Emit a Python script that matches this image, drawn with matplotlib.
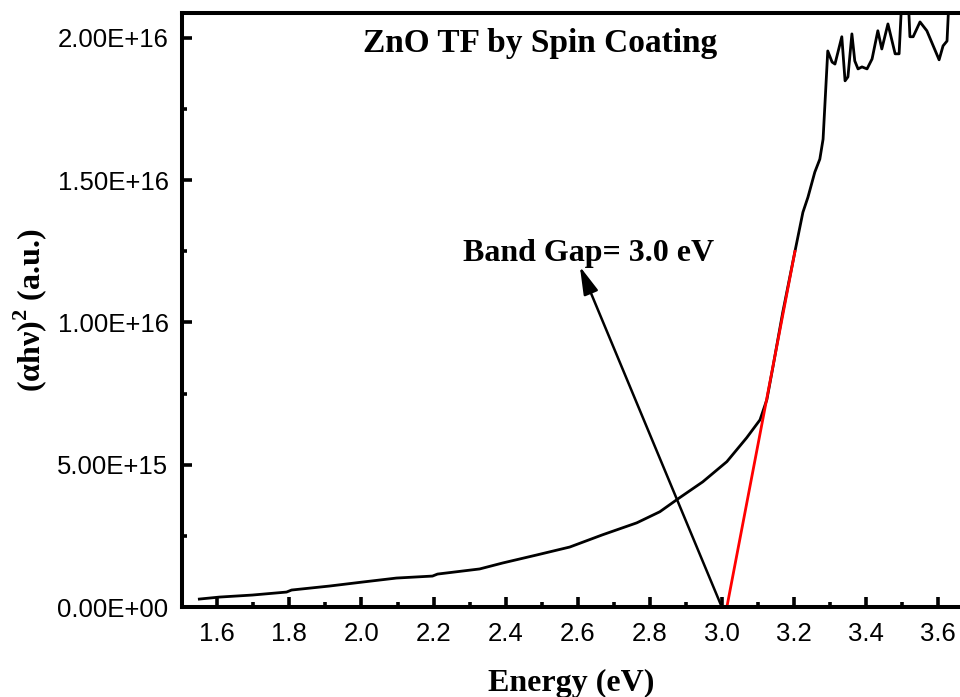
import matplotlib
matplotlib.use("Agg")
import matplotlib.pyplot as plt
from matplotlib.ticker import MultipleLocator, FormatStrFormatter

# Tauc plot data
energy = [1.550, 1.606, 1.697, 1.792, 1.806, 1.911, 2.003, 2.097, 2.197, 2.211,
          2.328, 2.392, 2.486, 2.578, 2.669, 2.764, 2.828, 2.878, 2.947, 3.014,
          3.069, 3.106, 3.125, 3.142, 3.169, 3.203, 3.225, 3.239, 3.258, 3.272,
          3.281, 3.294, 3.306, 3.314, 3.333, 3.342, 3.350, 3.361, 3.369, 3.378,
          3.389, 3.403, 3.417, 3.433, 3.444, 3.461, 3.481, 3.492, 3.500, 3.517,
          3.522, 3.531, 3.550, 3.569, 3.603, 3.614, 3.625, 3.631, 3.650]
ahv2 = [2.82e14, 3.52e14, 4.23e14, 5.28e14, 5.99e14, 7.39e14, 8.80e14, 1.02e15, 1.09e15, 1.16e15,
        1.34e15, 1.55e15, 1.83e15, 2.11e15, 2.54e15, 2.96e15, 3.35e15, 3.80e15, 4.40e15, 5.11e15,
        5.95e15, 6.58e15, 7.29e15, 8.45e15, 1.035e16, 1.25e16, 1.387e16, 1.44e16, 1.528e16, 1.574e16,
        1.644e16, 1.954e16, 1.915e16, 1.908e16, 2.004e16, 1.849e16, 1.863e16, 2.014e16, 1.919e16, 1.891e16,
        1.898e16, 1.891e16, 1.926e16, 2.025e16, 1.961e16, 2.049e16, 1.944e16, 1.944e16, 2.15e16, 2.15e16,
        2.004e16, 2.004e16, 2.056e16, 2.025e16, 1.923e16, 1.972e16, 1.989e16, 2.15e16, 2.20e16]

# linear fit used for the band gap extrapolation
fit_x = [3.014, 3.203]
fit_y = [0.0, 1.25e16]

arrow_tail = (3.0, 0.0)
arrow_head = (2.606, 1.197e16)

serif = "Liberation Serif"
plt.rcParams["font.family"] = "Liberation Sans"
plt.rcParams["mathtext.fontset"] = "custom"
plt.rcParams["mathtext.bf"] = "Liberation Serif:bold"
plt.rcParams["mathtext.rm"] = "Liberation Serif"

fig = plt.figure(figsize=(9.6, 6.97), dpi=100)
ax = fig.add_axes([0.19, 0.129, 0.81, 0.853])

ax.plot(energy, ahv2, color="black", lw=2.0)
ax.plot(fit_x, fit_y, color="red", lw=2.0)

ax.annotate("", xy=arrow_head, xytext=arrow_tail,
            arrowprops=dict(arrowstyle="-|>,head_length=0.85,head_width=0.23",
                            mutation_scale=20, lw=1.8, color="black",
                            shrinkA=0, shrinkB=0))
ax.text(2.631, 1.215e16, "Band Gap= 3.0 eV", ha="center", va="baseline",
        family=serif, weight="bold", fontsize=23)
ax.text(2.497, 1.95e16, "ZnO TF by Spin Coating", ha="center", va="baseline",
        family=serif, weight="bold", fontsize=24)

ax.set_xlim(1.503, 3.661)
ax.set_ylim(0, 2.089e16)
ax.xaxis.set_major_locator(MultipleLocator(0.2))
ax.xaxis.set_minor_locator(MultipleLocator(0.1))
ax.xaxis.set_major_formatter(FormatStrFormatter("%.1f"))
ax.yaxis.set_major_locator(MultipleLocator(0.5e16))
ax.yaxis.set_minor_locator(MultipleLocator(0.25e16))
ax.yaxis.set_major_formatter(FormatStrFormatter("%.2E"))

ax.tick_params(which="both", direction="in", width=2.6, labelsize=18.5,
               top=False, right=False)
ax.tick_params(which="major", length=7.5)
ax.tick_params(which="minor", length=3.5)
ax.tick_params(axis="x", pad=11)
ax.tick_params(axis="y", pad=10)

for side in ["left", "bottom", "top"]:
    ax.spines[side].set_linewidth(2.9)
ax.spines["right"].set_visible(False)

ax.set_xlabel("Energy (eV)", family=serif, weight="bold", fontsize=23, labelpad=16)
ax.set_ylabel("(αhν)$^{\\mathbf{2}}$ (a.u.)", family=serif, weight="bold", fontsize=23, labelpad=6)

fig.savefig("out.png", dpi=100)
